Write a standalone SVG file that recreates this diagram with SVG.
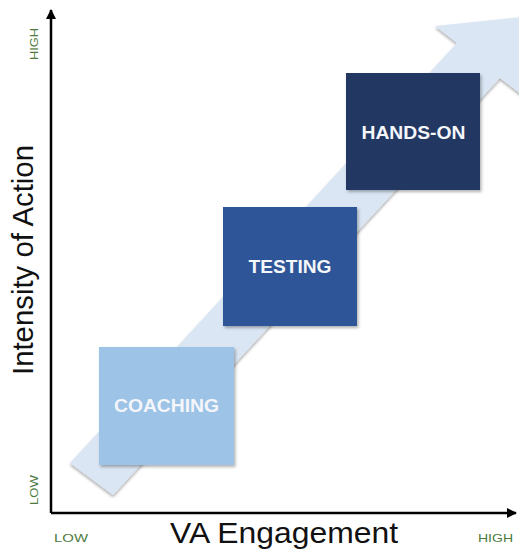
<svg xmlns="http://www.w3.org/2000/svg" width="519" height="550" viewBox="0 0 519 550">
<style>
.axis{stroke:#000;stroke-width:2.5;fill:none}
.tick{font-family:"Liberation Sans",Arial,sans-serif;font-size:11px;fill:#4d7a3d}
.title{font-family:"Liberation Sans",Arial,sans-serif;font-size:29px;fill:#111}
.lbl{font-family:"Liberation Sans",Arial,sans-serif;font-size:18px;font-weight:bold;fill:#f4f6fa;text-anchor:middle}
</style>
<defs>
<filter id="sh" x="-10%" y="-10%" width="130%" height="130%">
<feDropShadow dx="0" dy="2" stdDeviation="1.8" flood-color="#000" flood-opacity="0.35"/>
</filter>
<filter id="bsh" x="-10%" y="-10%" width="130%" height="130%">
<feDropShadow dx="1.5" dy="2" stdDeviation="1.5" flood-color="#000" flood-opacity="0.3"/>
</filter>
<marker id="ah" viewBox="0 0 10 10" refX="9" refY="5" markerWidth="4" markerHeight="4" orient="auto" markerUnits="strokeWidth">
<path d="M0,0 L10,5 L0,10 z" fill="#000"/>
</marker>
</defs>
<rect width="519" height="550" fill="#fff"/>
<g id="bigarrow">
<polygon points="70,463 113,495 500,78 526,98 532,16 435,26 457,43" fill="#dae6f4" filter="url(#sh)"/>
</g>
<g id="connectors">
<line class="axis" x1="51" y1="513" x2="51" y2="10" marker-end="url(#ah)"/>
<line class="axis" x1="51" y1="513" x2="516" y2="513" marker-end="url(#ah)"/>
</g>
<g id="coaching">
<rect x="99" y="347" width="135" height="118" fill="#9dc3e6" filter="url(#bsh)"/>
<text class="lbl" x="166.5" y="412" textLength="105" lengthAdjust="spacingAndGlyphs">COACHING</text>
</g>
<g id="testing">
<rect x="223" y="207" width="134" height="119" fill="#2f5597" filter="url(#bsh)"/>
<text class="lbl" x="290" y="273" textLength="83" lengthAdjust="spacingAndGlyphs">TESTING</text>
</g>
<g id="handson">
<rect x="346" y="73" width="134" height="117" fill="#203864" filter="url(#bsh)"/>
<text class="lbl" x="413.5" y="139" textLength="104" lengthAdjust="spacingAndGlyphs">HANDS-ON</text>
</g>
<g id="labels">
<text class="title" x="0" y="0" transform="translate(33,375) rotate(-90)" textLength="230" lengthAdjust="spacingAndGlyphs">Intensity of Action</text>
<text class="title" x="170" y="543" font-size="28" textLength="228" lengthAdjust="spacingAndGlyphs">VA Engagement</text>
<text class="tick" x="0" y="0" transform="translate(38,60) rotate(-90)" textLength="32" lengthAdjust="spacingAndGlyphs">HIGH</text>
<text class="tick" x="0" y="0" transform="translate(38,505) rotate(-90)" textLength="30" lengthAdjust="spacingAndGlyphs">LOW</text>
<text class="tick" x="54" y="542" textLength="34" lengthAdjust="spacingAndGlyphs">LOW</text>
<text class="tick" x="478" y="542" textLength="35" lengthAdjust="spacingAndGlyphs">HIGH</text>
</g>
</svg>
